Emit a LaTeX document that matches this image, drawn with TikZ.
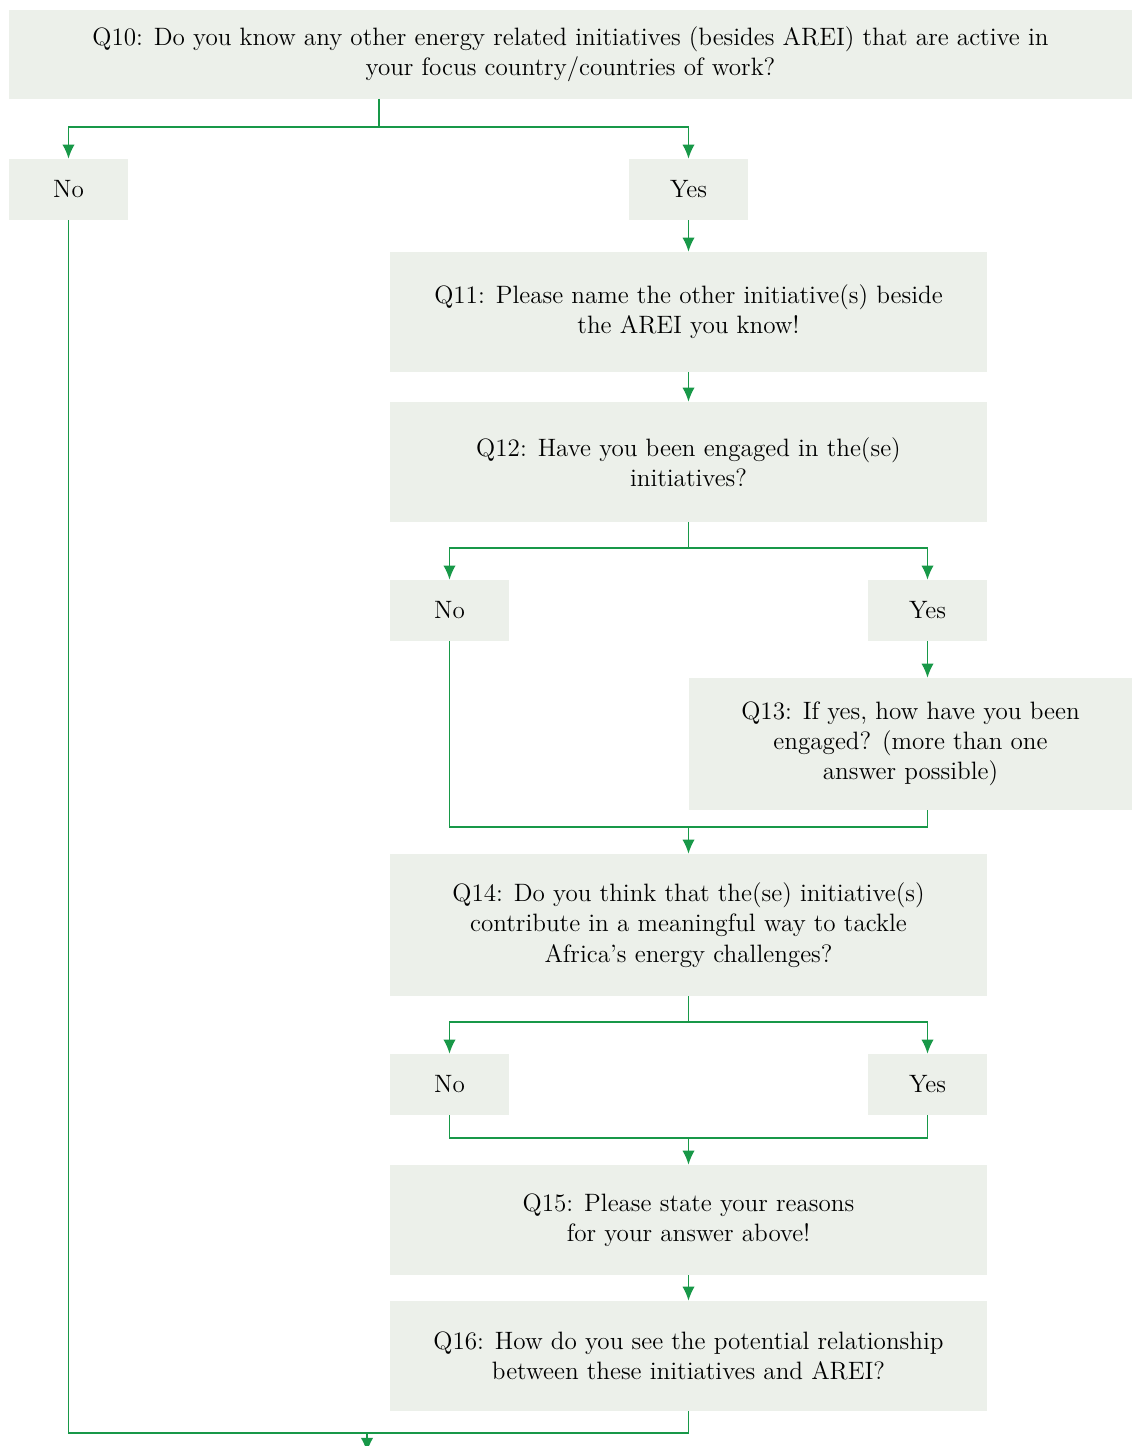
\documentclass[tikz,border=0pt]{standalone}
\usepackage{tikz}
\usetikzlibrary{arrows.meta,positioning}

\definecolor{boxgray}{RGB}{236,240,234}
\definecolor{linegreen}{RGB}{24,152,72}

\begin{document}
\begin{tikzpicture}[x=0.02cm, y=-0.02cm]
			\tikzstyle{Box}		= [rectangle, fill=boxgray, inner sep=0pt, align=center, font=\fontsize{14.3}{17.2}\selectfont]
			\tikzstyle{Wide}	= [minimum width=22.46cm, minimum height=1.78cm]
			\tikzstyle{Answer}	= [minimum width=2.38cm, minimum height=1.22cm]
			\tikzstyle{Main}	= [minimum width=11.94cm]
			\tikzstyle{Side}	= [minimum width=8.86cm, minimum height=2.64cm]
			\tikzstyle{Link}	= [linegreen, line width=0.8pt]
			\tikzstyle{Flow}	= [Link, -{Latex[length=8pt, width=7pt]}]

			\useasboundingbox (0,0) rectangle (1132,1446);

			\node (Q10) at (570.5,54.5) [Box][Wide] {Q10: Do you know any other energy related initiatives (besides AREI) that are active in\\your focus country/countries of work?};
			\node (No1) at (68.5,189.5) [Box][Answer] {No};
			\node (Yes1) at (688.5,189.5) [Box][Answer] {Yes};
			\node (Q11) at (688.5,312) [Box][Main][minimum height=2.4cm] {Q11: Please name the other initiative(s) beside\\the AREI you know!};
			\node (Q12) at (688.5,462) [Box][Main][minimum height=2.4cm] {Q12: Have you been engaged in the(se)\\initiatives?};
			\node (No2) at (449.5,610.5) [Box][Answer] {No};
			\node (Yes2) at (927.5,610.5) [Box][Answer] {Yes};
			\node (Q13) at (910.5,744) [Box][Side] {Q13: If yes, how have you been\\engaged? (more than one\\answer possible)};
			\node (Q14) at (688.5,925) [Box][Main][minimum height=2.84cm] {Q14: Do you think that the(se) initiative(s)\\contribute in a meaningful way to tackle\\Africa's energy challenges?};
			\node (No3) at (449.5,1084.5) [Box][Answer] {No};
			\node (Yes3) at (927.5,1084.5) [Box][Answer] {Yes};
			\node (Q15) at (688.5,1220) [Box][Main][minimum height=2.2cm] {Q15: Please state your reasons\\for your answer above!};
			\node (Q16) at (688.5,1356) [Box][Main][minimum height=2.2cm] {Q16: How do you see the potential relationship\\between these initiatives and AREI?};

			\coordinate (q10out) at (379,99);
			\coordinate (split1) at (379,127);
			\coordinate (split2) at (688.5,548);
			\coordinate (merge1) at (688.5,827);
			\coordinate (split3) at (688.5,1022);
			\coordinate (merge2) at (688.5,1138);
			\coordinate (merge3) at (367,1433);
			\coordinate (exit) at (367,1452);

			\draw (q10out) -- (split1) [Link];
			\draw (split1) -| (No1) [Flow];
			\draw (split1) -| (Yes1) [Flow];
			\draw (Yes1) to (Q11) [Flow];
			\draw (Q11) to (Q12) [Flow];

			\draw (Q12) -- (split2) [Link];
			\draw (split2) -| (No2) [Flow];
			\draw (split2) -| (Yes2) [Flow];
			\draw (Yes2.south) -- (Q13.north -| Yes2) [Flow];
			\draw (No2) |- (merge1) -| (Q13.south -| Yes2) [Link];
			\draw (merge1) to (Q14) [Flow];

			\draw (Q14) -- (split3) [Link];
			\draw (split3) -| (No3) [Flow];
			\draw (split3) -| (Yes3) [Flow];
			\draw (No3) |- (merge2) -| (Yes3) [Link];
			\draw (merge2) to (Q15) [Flow];
			\draw (Q15) to (Q16) [Flow];

			%\draw (Q16) to (exit) [Flow];
			\draw (No1) |- (merge3) -| (Q16) [Link];
			\draw (merge3) to (exit) [Flow];
\end{tikzpicture}
\end{document}
